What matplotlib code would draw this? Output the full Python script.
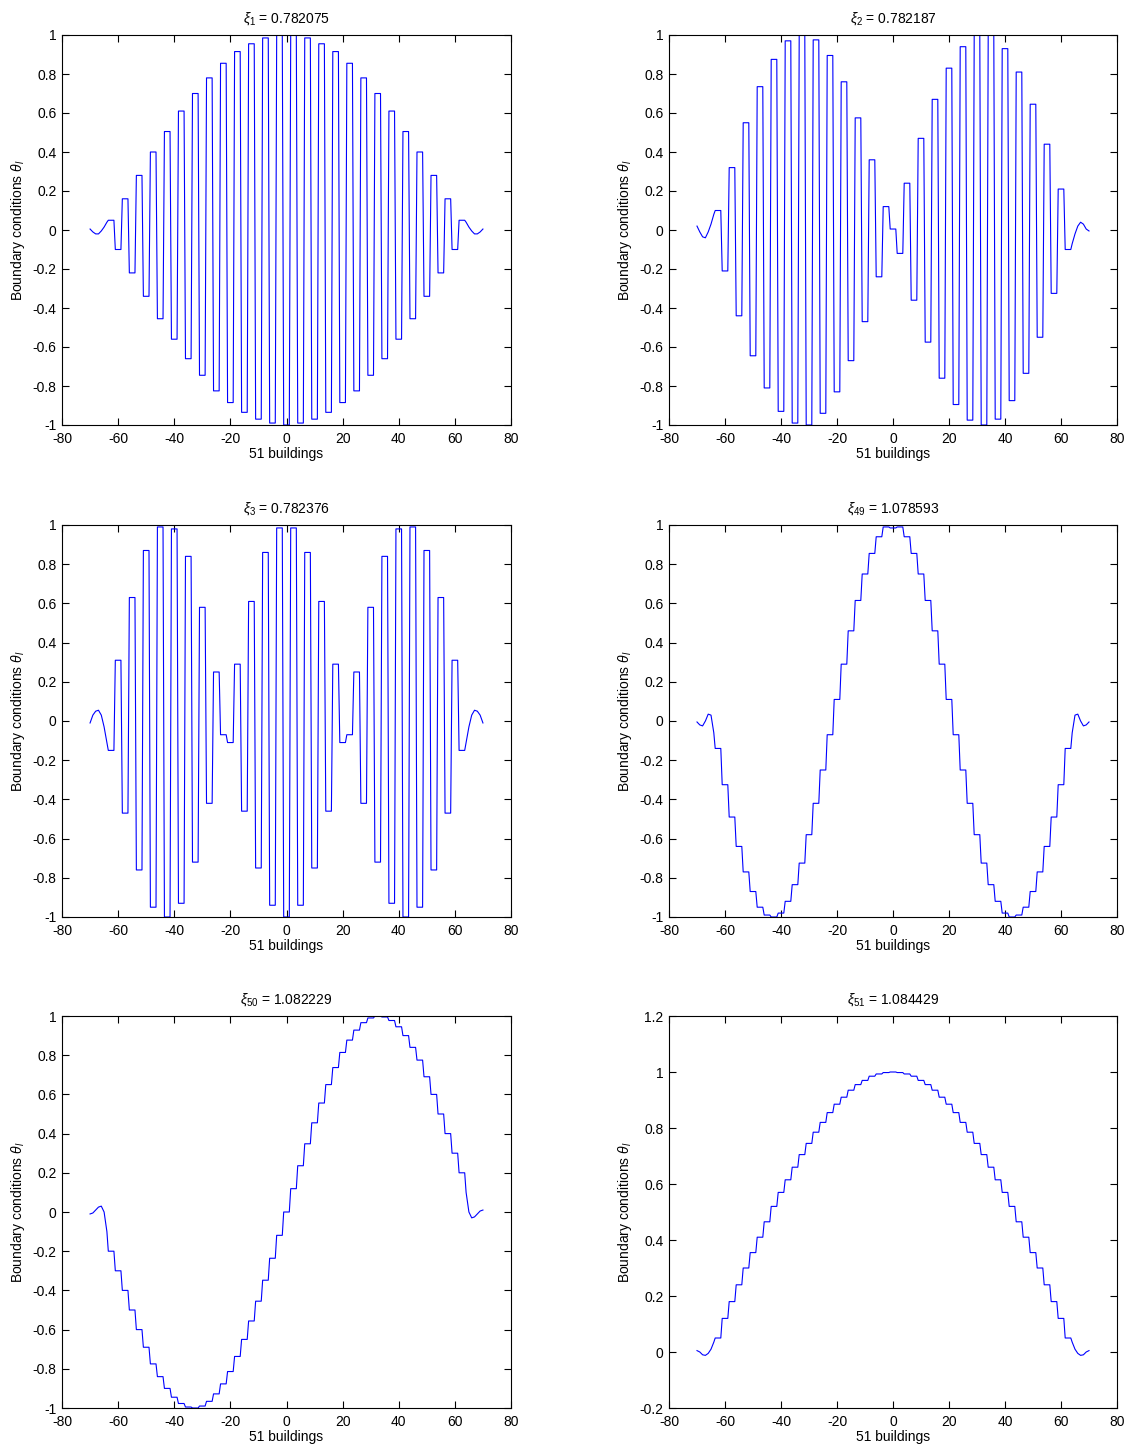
import numpy as np
import matplotlib
matplotlib.use("Agg")
import matplotlib.pyplot as plt

plt.rcParams['font.family'] = ['Liberation Sans', 'DejaVu Sans']
plt.rcParams['axes.unicode_minus'] = False
plt.rcParams['mathtext.fontset'] = 'custom'
plt.rcParams['mathtext.rm'] = 'Liberation Sans'
plt.rcParams['mathtext.it'] = 'Liberation Sans:italic'

# eigenvalues shown in the titles
mode_ids = ['1', '2', '3', '49', '50', '51']
xi_vals = ['0.782075', '0.782187', '0.782376', '1.078593', '1.082229', '1.084429']

# value on the roof of each of the 51 buildings (left to right)
mode1 = [0.05, -0.10, 0.16, -0.22, 0.28, -0.34, 0.40, -0.455, 0.505, -0.56,
         0.61, -0.66, 0.70, -0.745, 0.78, -0.825, 0.855, -0.885, 0.915, -0.935,
         0.955, -0.97, 0.985, -0.99, 1.0, -1.0, 1.0, -0.99, 0.985, -0.97,
         0.955, -0.935, 0.915, -0.885, 0.855, -0.825, 0.78, -0.745, 0.70, -0.66,
         0.61, -0.56, 0.505, -0.455, 0.40, -0.34, 0.28, -0.22, 0.16, -0.10, 0.05]
mode2 = [0.10, -0.21, 0.32, -0.44, 0.55, -0.645, 0.735, -0.81, 0.875, -0.93,
         0.97, -0.99, 1.0, -1.0, 0.975, -0.94, 0.895, -0.83, 0.76, -0.67,
         0.575, -0.47, 0.36, -0.24, 0.12, 0.005, -0.12, 0.24, -0.36, 0.47,
         -0.575, 0.67, -0.76, 0.83, -0.895, 0.94, -0.975, 1.0, -1.0, 1.0,
         -0.97, 0.93, -0.875, 0.81, -0.735, 0.645, -0.55, 0.44, -0.325, 0.21, -0.10]
mode3 = [-0.15, 0.31, -0.47, 0.63, -0.76, 0.87, -0.95, 0.99, -1.0, 0.98,
         -0.93, 0.84, -0.72, 0.58, -0.42, 0.25, -0.07, -0.11, 0.29, -0.46,
         0.61, -0.75, 0.86, -0.94, 0.985, -1.0, 0.985, -0.94, 0.86, -0.75,
         0.61, -0.46, 0.29, -0.11, -0.07, 0.25, -0.42, 0.58, -0.72, 0.84,
         -0.93, 0.98, -1.0, 0.99, -0.95, 0.87, -0.76, 0.63, -0.47, 0.31, -0.15]
mode49 = [-0.14, -0.325, -0.49, -0.64, -0.77, -0.87, -0.95, -0.99, -1.0, -0.98,
          -0.92, -0.835, -0.725, -0.58, -0.42, -0.25, -0.07, 0.11, 0.29, 0.46,
          0.615, 0.75, 0.855, 0.94, 0.99, 0.985, 0.99, 0.94, 0.855, 0.75,
          0.615, 0.46, 0.29, 0.11, -0.07, -0.25, -0.42, -0.58, -0.725, -0.835,
          -0.92, -0.98, -1.0, -0.99, -0.95, -0.87, -0.77, -0.64, -0.49, -0.325, -0.14]
mode50 = [-0.20, -0.30, -0.40, -0.50, -0.60, -0.69, -0.775, -0.84, -0.90, -0.945,
          -0.977, -0.995, -1.0, -0.99, -0.966, -0.928, -0.877, -0.814, -0.737, -0.65,
          -0.556, -0.455, -0.348, -0.236, -0.119, 0.0, 0.119, 0.236, 0.348, 0.455,
          0.556, 0.65, 0.737, 0.814, 0.877, 0.928, 0.966, 0.99, 1.0, 0.995,
          0.977, 0.945, 0.90, 0.84, 0.775, 0.69, 0.60, 0.50, 0.40, 0.30, 0.20]
mode51 = [0.05, 0.12, 0.18, 0.24, 0.30, 0.355, 0.41, 0.465, 0.52, 0.57,
          0.615, 0.66, 0.705, 0.745, 0.785, 0.82, 0.855, 0.885, 0.91, 0.935,
          0.955, 0.97, 0.985, 0.993, 0.998, 1.0, 0.998, 0.993, 0.985, 0.97,
          0.955, 0.935, 0.91, 0.885, 0.855, 0.82, 0.785, 0.745, 0.705, 0.66,
          0.615, 0.57, 0.52, 0.465, 0.41, 0.355, 0.30, 0.24, 0.18, 0.12, 0.05]

# open ground on both sides of the row of buildings
ground_left_x = [-70, -69, -68, -67, -66, -65, -64, -63.5]
ground_right_x = [63.5, 64, 65, 66, 67, 68, 69, 70]
g1_left = [0.005, -0.01, -0.02, -0.02, -0.005, 0.015, 0.04, 0.05]
g1_right = [0.05, 0.04, 0.015, -0.005, -0.02, -0.02, -0.01, 0.005]
g2_left = [0.02, -0.01, -0.035, -0.04, -0.01, 0.03, 0.08, 0.10]
g2_right = [-0.10, -0.07, -0.02, 0.02, 0.04, 0.03, 0.005, -0.005]
g3_left = [-0.01, 0.03, 0.05, 0.055, 0.03, -0.03, -0.11, -0.15]
g3_right = [-0.15, -0.11, -0.03, 0.03, 0.055, 0.05, 0.03, -0.01]
g49_left = [-0.005, -0.02, -0.025, 0.0, 0.035, 0.03, -0.06, -0.14]
g49_right = [-0.14, -0.06, 0.03, 0.035, 0.0, -0.025, -0.02, -0.005]
g50_left = [-0.01, -0.005, 0.01, 0.025, 0.03, 0.0, -0.10, -0.20]
g50_right = [0.20, 0.10, 0.0, -0.03, -0.025, -0.01, 0.005, 0.01]
g51_left = [0.005, 0.0, -0.01, -0.012, -0.005, 0.01, 0.035, 0.05]
g51_right = [0.05, 0.035, 0.01, -0.005, -0.012, -0.01, 0.0, 0.005]

yticks_unit = [-1, -0.8, -0.6, -0.4, -0.2, 0, 0.2, 0.4, 0.6, 0.8, 1]
ylabels_unit = ['-1', '-0.8', '-0.6', '-0.4', '-0.2', '0', '0.2', '0.4', '0.6', '0.8', '1']
yticks_last = [-0.2, 0, 0.2, 0.4, 0.6, 0.8, 1, 1.2]
ylabels_last = ['-0.2', '0', '0.2', '0.4', '0.6', '0.8', '1', '1.2']
xticks = [-80, -60, -40, -20, 0, 20, 40, 60, 80]
xlabels = ['-80', '-60', '-40', '-20', '0', '20', '40', '60', '80']

modes = [mode1, mode2, mode3, mode49, mode50, mode51]
grounds = [(g1_left, g1_right), (g2_left, g2_right), (g3_left, g3_right),
           (g49_left, g49_right), (g50_left, g50_right), (g51_left, g51_right)]

n_build = 51
pitch = 2.5
half_w = 1.0


def profile(vals, gl, gr):
    xs = list(ground_left_x)
    ys = list(gl)
    for k, v in enumerate(vals):
        c = (k - (n_build - 1) / 2) * pitch
        xs += [c - half_w, c + half_w]
        ys += [v, v]
    xs += list(ground_right_x)
    ys += list(gr)
    return np.array(xs), np.array(ys)


fig = plt.figure(figsize=(11.3, 14.54), dpi=100)
W, H = 1130.0, 1454.0
# pixel boxes: left, top, right, bottom
boxes = [(62, 35, 511, 425), (669, 35, 1117, 425),
         (62, 525, 511, 917), (669, 525, 1117, 917),
         (62, 1016, 511, 1408), (669, 1016, 1117, 1408)]

for i in range(6):
    l, t, r, b = boxes[i]
    ax = fig.add_axes([l / W, 1 - b / H, (r - l) / W, (b - t) / H])
    x, y = profile(modes[i], grounds[i][0], grounds[i][1])
    ax.plot(x, y, color='#0000ff', linewidth=0.8)
    ax.set_xlim(-80, 80)
    ax.set_xticks(xticks)
    ax.set_xticklabels(xlabels)
    if i == 5:
        ax.set_ylim(-0.2, 1.2)
        ax.set_yticks(yticks_last)
        ax.set_yticklabels(ylabels_last)
    else:
        ax.set_ylim(-1, 1)
        ax.set_yticks(yticks_unit)
        ax.set_yticklabels(ylabels_unit)
    ax.tick_params(direction='in', top=True, right=True, length=5, labelsize=10)
    ax.tick_params(axis='x', pad=5)
    ax.tick_params(axis='y', pad=4)
    for s in ax.spines.values():
        s.set_linewidth(0.8)
    ax.set_title(r'$\xi_{%s}$ = %s' % (mode_ids[i], xi_vals[i]), fontsize=10, pad=9)
    ax.set_xlabel('51 buildings', fontsize=10, labelpad=1)
    ax.set_ylabel(r'Boundary conditions $\theta_l$', fontsize=10, labelpad=4)

fig.savefig('out.png', dpi=100)
